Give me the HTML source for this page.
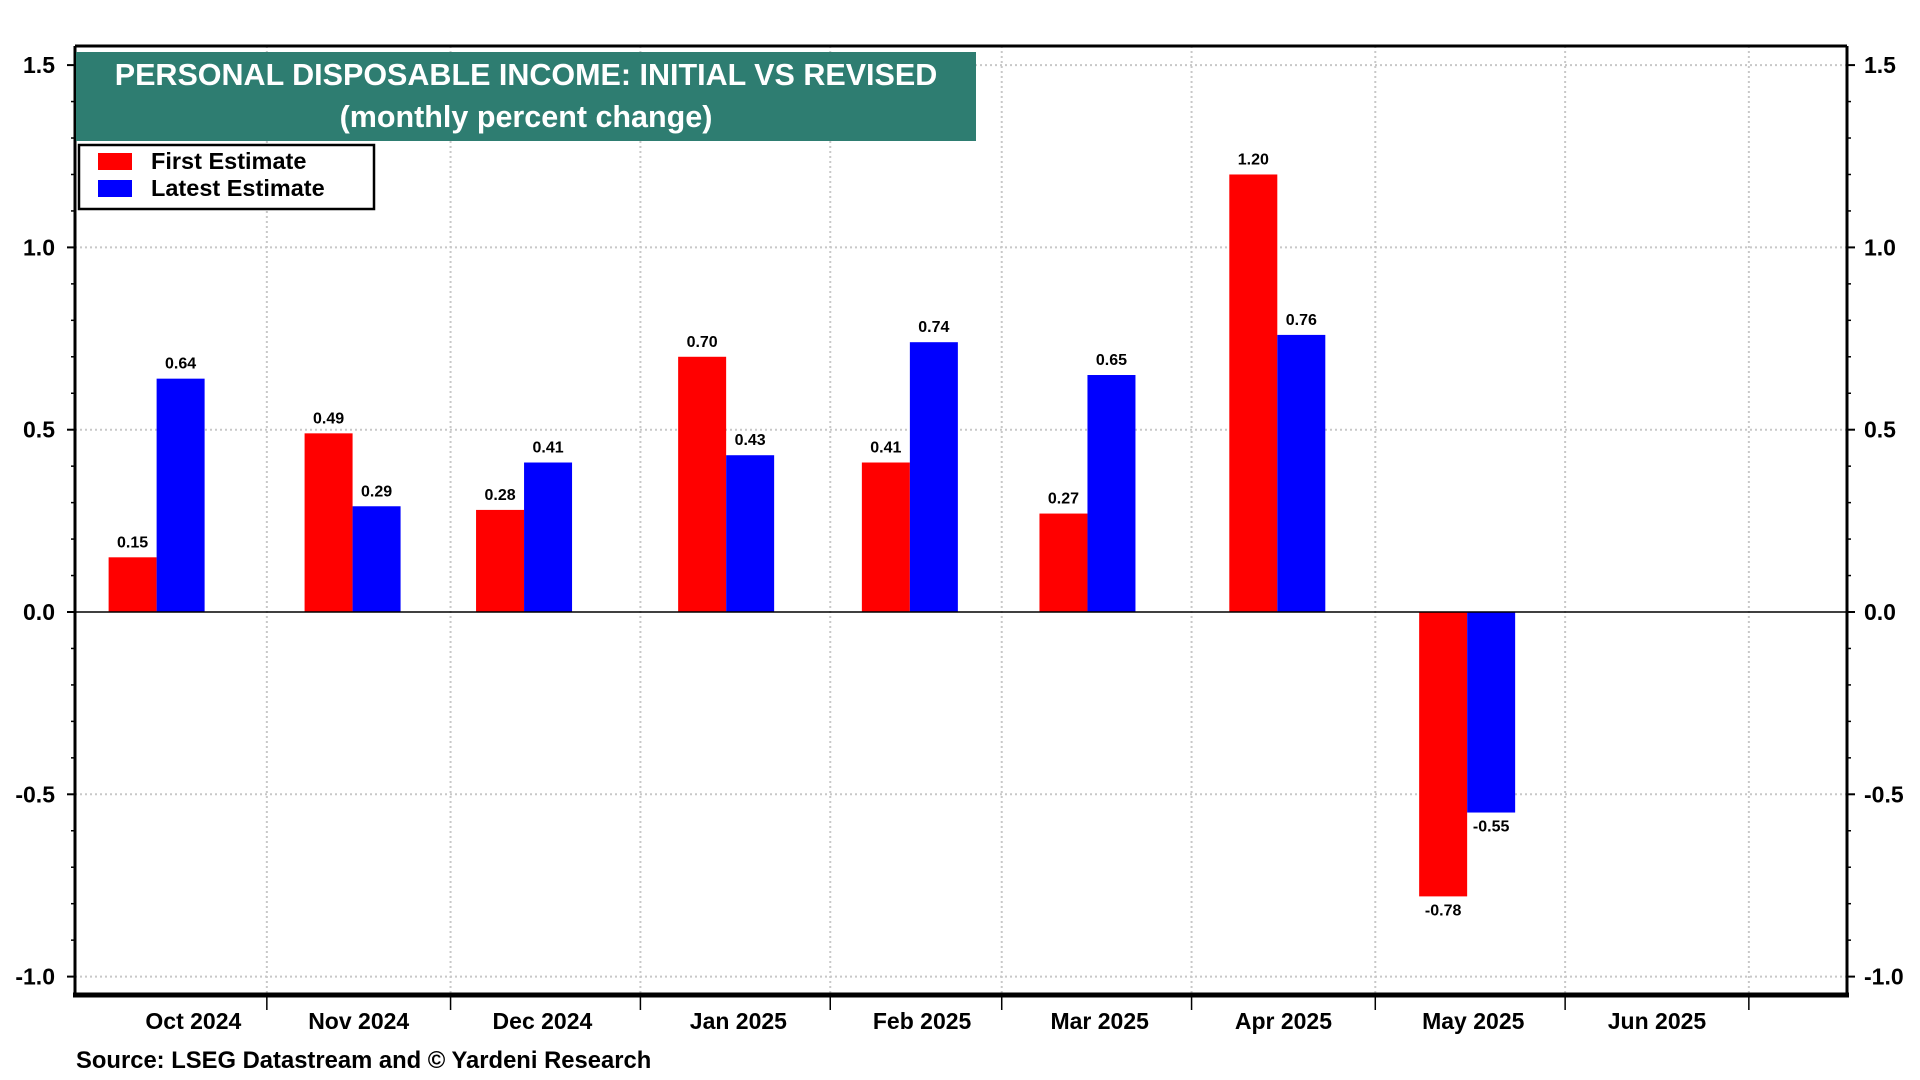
<!DOCTYPE html>
<html><head><meta charset="utf-8">
<style>
html,body{margin:0;padding:0;background:#fff;}
svg{display:block;font-family:"Liberation Sans",Arial,sans-serif;font-weight:bold;}
</style></head>
<body>
<svg id="chart" width="1920" height="1080" viewBox="0 0 1920 1080" xmlns="http://www.w3.org/2000/svg">
<g id="grid"></g>
<g id="bars"></g>
<g id="axes"></g>
<rect x="76" y="52" width="900" height="89" fill="#2e7d71"/>
<text x="526" y="85" text-anchor="middle" fill="#fff" font-size="30.5">PERSONAL DISPOSABLE INCOME: INITIAL VS REVISED</text>
<text x="526" y="127" text-anchor="middle" fill="#fff" font-size="30.5">(monthly percent change)</text>
<g>
<rect x="79" y="145" width="295" height="64" fill="#fff" stroke="#000" stroke-width="2.5"/>
<rect x="98" y="153" width="34" height="17" fill="#ff0000"/>
<text x="151" y="169" font-size="23.5">First Estimate</text>
<rect x="98" y="180" width="34" height="17" fill="#0000ff"/>
<text x="151" y="196" font-size="23.5">Latest Estimate</text>
</g>
<text x="76" y="1068" font-size="23.8">Source: LSEG Datastream and © Yardeni Research</text>
</svg>
<script>
const barDates = ["2024-10-14","2024-11-15","2024-12-13","2025-01-15","2025-02-14","2025-03-15","2025-04-15","2025-05-16"];
const firstEstimate = [0.15,0.49,0.28,0.70,0.41,0.27,1.20,-0.78];
const latestEstimate = [0.64,0.29,0.41,0.43,0.74,0.65,0.76,-0.55];
const monthStarts = ["2024-11-01","2024-12-01","2025-01-01","2025-02-01","2025-03-01","2025-04-01","2025-05-01","2025-06-01","2025-07-01"];
const monthLabels = ["Oct 2024","Nov 2024","Dec 2024","Jan 2025","Feb 2025","Mar 2025","Apr 2025","May 2025","Jun 2025"];
const labelDates = ["2024-10-20","2024-11-16","2024-12-16","2025-01-17","2025-02-16","2025-03-17","2025-04-16","2025-05-17","2025-06-16"];
const yTicks = [-1.0,-0.5,0.0,0.5,1.0,1.5];

const NS="http://www.w3.org/2000/svg";
const L=75,R=1847,T=46,B=995;
const origin=Date.UTC(2024,9,1);
function x(d){const p=d.split("-");const t=Date.UTC(+p[0],+p[1]-1,+p[2]);return 77+(t-origin)/86400000*6.124;}
function y(v){return 612-v*364.6;}
function mk(tag,attrs,parent){const e=document.createElementNS(NS,tag);for(const k in attrs)e.setAttribute(k,attrs[k]);parent.appendChild(e);return e;}
const grid=document.getElementById("grid"),bars=document.getElementById("bars"),axes=document.getElementById("axes");

yTicks.forEach(v=>{
  if(v!==0){const g=mk("line",{x1:L,x2:R,y1:y(v),y2:y(v),stroke:"#c8c8c8","stroke-width":2,"stroke-dasharray":"2,3"},grid);
  
  }
  const a=mk("text",{x:55,y:y(v)+8,"text-anchor":"end","font-size":23},axes);a.textContent=v.toFixed(1);
  
  
  const b=mk("text",{x:1864,y:y(v)+8,"font-size":23},axes);b.textContent=v.toFixed(1);
  
  
  mk("line",{x1:L-8,x2:L,y1:y(v),y2:y(v),stroke:"#000","stroke-width":2},axes);
  mk("line",{x1:R,x2:R+8,y1:y(v),y2:y(v),stroke:"#000","stroke-width":2},axes);
});
for(let i=-10;i<=15;i++){const v=i/10;if(i%5===0)continue;
  mk("line",{x1:L-4,x2:L,y1:y(v),y2:y(v),stroke:"#000","stroke-width":1.5},axes);
  mk("line",{x1:R,x2:R+4,y1:y(v),y2:y(v),stroke:"#000","stroke-width":1.5},axes);}
monthStarts.forEach(d=>{
  const g=mk("line",{x1:x(d),x2:x(d),y1:T,y2:B,stroke:"#c8c8c8","stroke-width":2,"stroke-dasharray":"2,3"},grid);
  
  
  mk("line",{x1:x(d),x2:x(d),y1:B,y2:B+15,stroke:"#000","stroke-width":1.5},axes);
});
monthLabels.forEach((m,i)=>{
  const t=mk("text",{x:x(labelDates[i]),y:1029,"text-anchor":"middle","font-size":23},axes);t.textContent=m;
  
  
});
const z=mk("line",{x1:L,x2:R,y1:y(0),y2:y(0),stroke:"#000","stroke-width":1.5},axes);



const W=48;
function bar(v,cx,color,name){
  const top=Math.min(y(v),y(0)),h=Math.abs(y(v)-y(0));
  const r=mk("rect",{x:cx,y:top,width:W,height:h,fill:color},bars);
  
  
  const t=mk("text",{x:cx+W/2,y:v>=0?y(v)-10:y(v)+19,"text-anchor":"middle","font-size":16},bars);
  t.textContent=v.toFixed(2);
  
  
}
barDates.forEach((d,i)=>{
  const c=x(d);
  bar(firstEstimate[i],c-W,"#ff0000","bar-first-estimate");
  bar(latestEstimate[i],c,"#0000ff","bar-latest-estimate");
});
mk("line",{x1:L,x2:R,y1:T,y2:T,stroke:"#000","stroke-width":3},axes);
mk("line",{x1:L,x2:L,y1:T,y2:B,stroke:"#000","stroke-width":3},axes);
mk("line",{x1:R,x2:R,y1:T,y2:B,stroke:"#000","stroke-width":3},axes);
mk("line",{x1:L-2,x2:R+2,y1:B,y2:B,stroke:"#000","stroke-width":5},axes);
</script>
</body></html>
